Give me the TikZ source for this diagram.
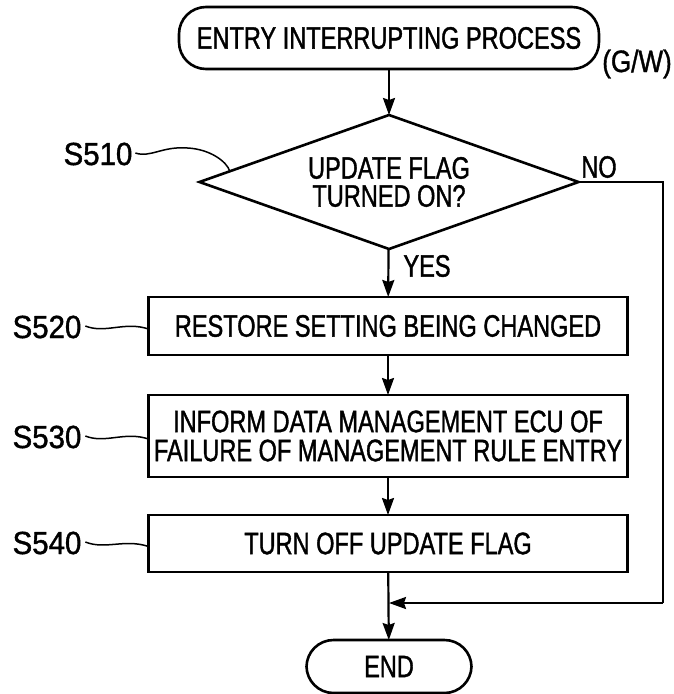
\documentclass[tikz,border=0pt]{standalone}
\usepackage{fontspec}
\setmainfont[FakeStretch=0.76,FakeBold=1.2]{Liberation Sans}
\newfontfamily\steplblfont[FakeStretch=0.92,FakeBold=1.2]{Liberation Sans}
\newfontfamily\gwlblfont[FakeStretch=0.84,FakeBold=1.2]{Liberation Sans}
\usetikzlibrary{arrows.meta,shapes.geometric,calc}
\begin{document}
\begin{tikzpicture}[x=1pt,y=-1pt,
  every node/.style={font=\fontsize{31}{29}\selectfont, inner sep=0pt, outer sep=0pt},
  term/.style={draw, line width=2.6pt, rounded corners=27pt, align=center},
  procbox/.style={draw, line width=2.6pt, minimum width=479pt, align=center},
  decision/.style={draw, line width=2.6pt, diamond, aspect=2.83, minimum width=379pt, minimum height=134pt, align=center},
  steplbl/.style={font=\steplblfont\fontsize{32}{32}\selectfont},
  gwlbl/.style={font=\gwlblfont\fontsize{31}{31}\selectfont},
  flow/.style={line width=2.2pt, -{Stealth[length=17pt,width=12pt,inset=2pt]}},
  plain/.style={line width=2.2pt},
  leader/.style={line width=1.5pt}
]
\useasboundingbox (0,0) rectangle (673,694);

\node[term, minimum width=420pt, minimum height=62pt] (start) at (389,38) {ENTRY INTERRUPTING PROCESS};
\node[gwlbl] (gw) at (637,64) {(G/W)};
\node[decision] (dec) at (389,182) {UPDATE FLAG\\[-1pt]TURNED ON?};
\node (no) at (599,167) {NO};
\node (yes) at (427,266) {YES};
\node[procbox, minimum height=58pt] (b520) at (388,326) {RESTORE SETTING BEING CHANGED};
\node[procbox, minimum height=82pt] (b530) at (388,436) {INFORM DATA MANAGEMENT ECU OF\\FAILURE OF MANAGEMENT RULE ENTRY};
\node[procbox, minimum height=57pt] (b540) at (388,543.5) {TURN OFF UPDATE FLAG};
\node[term, minimum width=165pt, minimum height=53pt] (end) at (389,666.5) {END};

\node[steplbl] (s510) at (98,154) {S510};
\node[steplbl] (s520) at (47,327) {S520};
\node[steplbl] (s530) at (47,437) {S530};
\node[steplbl] (s540) at (47,543) {S540};

\coordinate (join) at (389,603);
\coordinate (rt) at (663,182);
\coordinate (rb) at (663,603);
\coordinate (d510) at ($(dec.west)!0.16!(dec.north)$);

\draw[flow] (start) -- (dec);
\draw[flow] (dec) -- (b520);
\draw[flow] (b520) -- (b530);
\draw[flow] (b530) -- (b540);
\draw[flow] (b540) -- (end);
\draw[plain] (dec.east) -- (rt) -- (rb);
\draw[flow] (rb) -- (join);

\draw[leader] ([xshift=3pt,yshift=1pt]s510.east) .. controls +(15,5) and +(-25,-2) .. +(52,-5) .. controls +(22,1) and +(-3,-10) .. (d510);
\draw[leader] ([xshift=4pt,yshift=1pt]s520.east) .. controls +(20,8) and +(-24,-8) .. ([yshift=-3pt]b520.west);
\draw[leader] ([xshift=4pt,yshift=1pt]s530.east) .. controls +(20,8) and +(-24,-8) .. ([yshift=-3pt]b530.west);
\draw[leader] ([xshift=4pt,yshift=1pt]s540.east) .. controls +(20,8) and +(-24,-8) .. ([yshift=-3pt]b540.west);
\end{tikzpicture}
\end{document}
